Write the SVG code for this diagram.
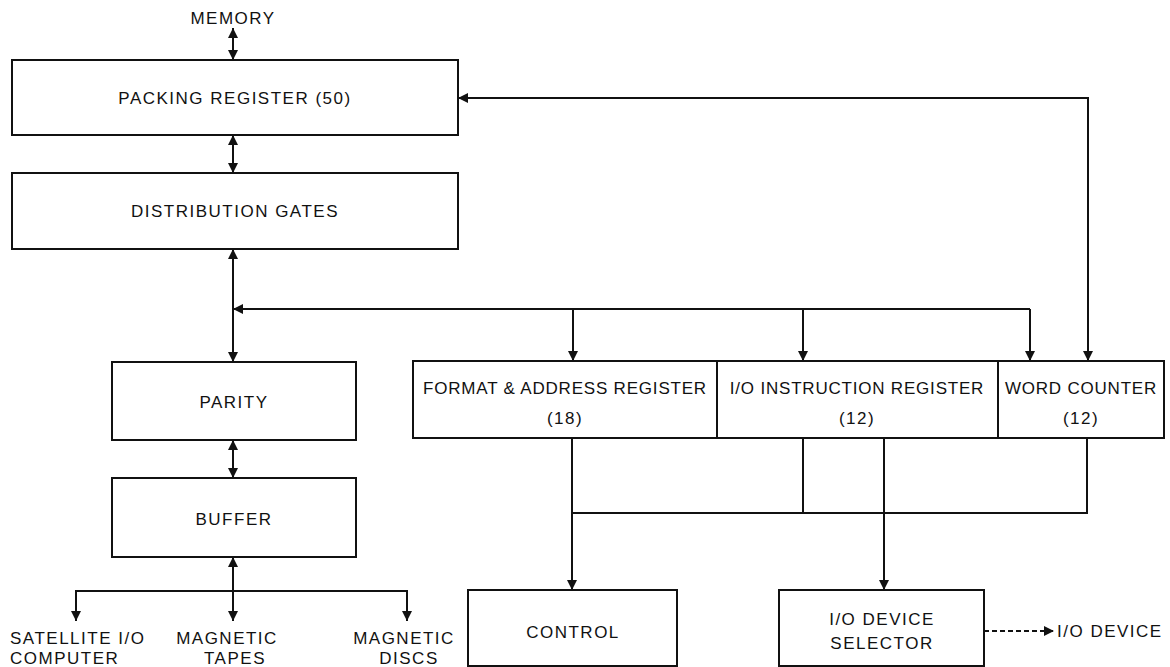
<svg xmlns="http://www.w3.org/2000/svg" width="1170" height="667" viewBox="0 0 1170 667">
<style>
  .box { fill: #fff; stroke: #111; stroke-width: 2; }
  .ln { fill: none; stroke: #111; stroke-width: 2; }
  .dash { fill: none; stroke: #111; stroke-width: 2; stroke-dasharray: 5 3; }
  text { font-family: "Liberation Sans", Arial, sans-serif; font-size: 17px; fill: #111; letter-spacing: 1.5px; dominant-baseline: central; }
  .c { text-anchor: middle; }
  .r { letter-spacing: 0.8px; }
</style>
<defs>
  <marker id="ah" viewBox="0 0 10 10" refX="10" refY="5" markerWidth="10" markerHeight="10" markerUnits="userSpaceOnUse" orient="auto-start-reverse">
    <path d="M0,0 L10,5 L0,10 z" fill="#111"/>
  </marker>
</defs>
<rect width="1170" height="667" fill="#fff"/>

<g id="connectors">
  <line class="ln" x1="233" y1="28" x2="233" y2="60" marker-start="url(#ah)" marker-end="url(#ah)"/>
  <line class="ln" x1="233" y1="135" x2="233" y2="173" marker-start="url(#ah)" marker-end="url(#ah)"/>
  <line class="ln" x1="233" y1="249" x2="233" y2="362" marker-start="url(#ah)" marker-end="url(#ah)"/>
  <polyline class="ln" points="1030,309 233,309" marker-end="url(#ah)"/>
  <polyline class="ln" points="1030,309 1030,361" marker-end="url(#ah)"/>
  <line class="ln" x1="573" y1="309" x2="573" y2="361" marker-end="url(#ah)"/>
  <line class="ln" x1="803" y1="309" x2="803" y2="361" marker-end="url(#ah)"/>
  <polyline class="ln" points="458,98 1088,98 1088,361" marker-start="url(#ah)" marker-end="url(#ah)"/>
  <line class="ln" x1="233" y1="440" x2="233" y2="478" marker-start="url(#ah)" marker-end="url(#ah)"/>
  <line class="ln" x1="233" y1="557" x2="233" y2="621" marker-start="url(#ah)" marker-end="url(#ah)"/>
  <polyline class="ln" points="76,621 76,591 407,591 407,621" marker-start="url(#ah)" marker-end="url(#ah)"/>
  <line class="ln" x1="572" y1="438" x2="572" y2="590" marker-end="url(#ah)"/>
  <polyline class="ln" points="572,513 1087,513 1087,438"/>
  <line class="ln" x1="803" y1="438" x2="803" y2="513"/>
  <line class="ln" x1="884" y1="438" x2="884" y2="590" marker-end="url(#ah)"/>
  <line class="dash" x1="984" y1="631" x2="1054" y2="631" marker-end="url(#ah)"/>
</g>

<g id="memory"><text class="c" x="233" y="18">MEMORY</text></g>
<g id="packing-register">
  <rect class="box" x="12" y="60" width="446" height="75"/>
  <text class="c" x="235" y="98">PACKING REGISTER (50)</text>
</g>
<g id="distribution-gates">
  <rect class="box" x="12" y="173" width="446" height="76"/>
  <text class="c" x="235" y="211">DISTRIBUTION GATES</text>
</g>
<g id="parity">
  <rect class="box" x="112" y="362" width="244" height="78"/>
  <text class="c" x="234" y="402">PARITY</text>
</g>
<g id="buffer">
  <rect class="box" x="112" y="478" width="244" height="79"/>
  <text class="c" x="234" y="519">BUFFER</text>
</g>
<g id="format-address-register">
  <rect class="box" x="413" y="361" width="304" height="77"/>
  <text class="c r" x="565" y="388">FORMAT &amp; ADDRESS REGISTER</text>
  <text class="c" x="565" y="418">(18)</text>
</g>
<g id="io-instruction-register">
  <rect class="box" x="717" y="361" width="281" height="77"/>
  <text class="c r" x="857" y="388">I/O INSTRUCTION REGISTER</text>
  <text class="c" x="857" y="418">(12)</text>
</g>
<g id="word-counter">
  <rect class="box" x="998" y="361" width="166" height="77"/>
  <text class="c r" x="1081" y="388">WORD COUNTER</text>
  <text class="c" x="1081" y="418">(12)</text>
</g>
<g id="control">
  <rect class="box" x="468" y="590" width="209" height="76"/>
  <text class="c" x="573" y="632">CONTROL</text>
</g>
<g id="io-device-selector">
  <rect class="box" x="779" y="590" width="205" height="76"/>
  <text class="c" x="882" y="619">I/O DEVICE</text>
  <text class="c" x="882" y="643">SELECTOR</text>
</g>
<g id="io-device"><text x="1057" y="631">I/O DEVICE</text></g>
<g id="satellite-io-computer">
  <text x="10" y="638">SATELLITE I/O</text>
  <text x="10" y="658">COMPUTER</text>
</g>
<g id="magnetic-tapes">
  <text class="c" x="227" y="638">MAGNETIC</text>
  <text class="c" x="235" y="658">TAPES</text>
</g>
<g id="magnetic-discs">
  <text class="c" x="404" y="638">MAGNETIC</text>
  <text class="c" x="409" y="658">DISCS</text>
</g>
</svg>
